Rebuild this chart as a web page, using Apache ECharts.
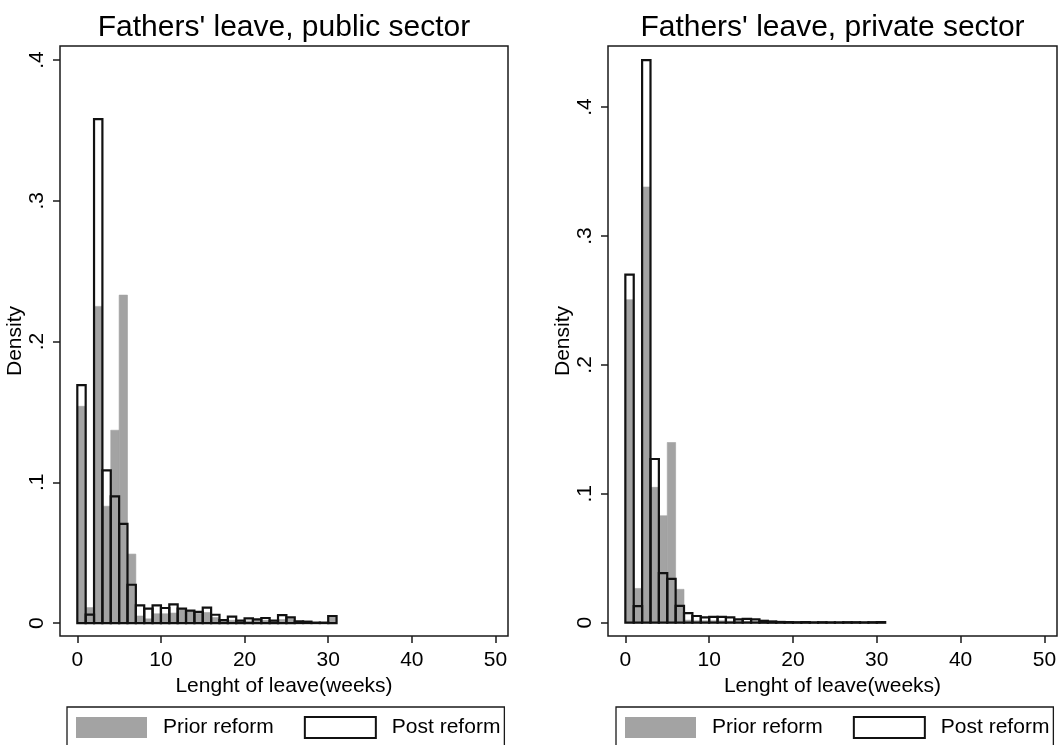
<!DOCTYPE html>
<html>
<head>
<meta charset="utf-8">
<title>Fathers' leave</title>
<script src="https://cdn.jsdelivr.net/npm/echarts@6/dist/echarts.min.js"></script>
<style>
  html, body { margin: 0; padding: 0; background: #ffffff; }
  #chart { width: 1060px; height: 745px; }
</style>
</head>
<body>
<div id="chart"></div>
<script>
// Histogram bins: lower edges (weeks), each bin is one week wide
const binStart = [0, 1, 2, 3, 4, 5, 6, 7, 8, 9, 10, 11, 12, 13, 14, 15, 16, 17, 18, 19, 20, 21, 22, 23, 24, 25, 26, 27, 28, 29, 30];
const binWidth = 1;

// Density per bin, public sector
const publicPrior = [0.154, 0.011, 0.225, 0.083, 0.137, 0.233, 0.049, 0.005, 0.003, 0.0066, 0.0066, 0.0071, 0.0095, 0.0085, 0.007, 0.0075, 0.004, 0.002, 0.002, 0.0017, 0.0015, 0.0026, 0.002, 0.0017, 0.0025, 0.003, 0.0012, 0.001, 0.0003, 0.0003, 0.005];
const publicPost = [0.169, 0.006, 0.358, 0.1085, 0.090, 0.0705, 0.0272, 0.0126, 0.0102, 0.0126, 0.0107, 0.0133, 0.0102, 0.0088, 0.008, 0.011, 0.0059, 0.0021, 0.0045, 0.0017, 0.0033, 0.0026, 0.0036, 0.0017, 0.0057, 0.004, 0.0012, 0.001, 0.0003, 0.0003, 0.005];

// Density per bin, private sector
const privatePrior = [0.2506, 0.0266, 0.338, 0.105, 0.083, 0.1398, 0.0259, 0.002, 0.0015, 0.0015, 0.0015, 0.0015, 0.0012, 0.001, 0.001, 0.0008, 0.0008, 0.0006, 0.0005, 0.0005, 0.0005, 0.0005, 0.0004, 0.0005, 0.0004, 0.0004, 0.0005, 0.0005, 0.0004, 0.0005, 0.0005];
const privatePost = [0.270, 0.0129, 0.4365, 0.127, 0.0385, 0.034, 0.013, 0.0075, 0.0052, 0.0041, 0.0045, 0.0045, 0.0041, 0.0026, 0.003, 0.0026, 0.0015, 0.001, 0.0006, 0.0005, 0.0004, 0.0005, 0.0003, 0.0004, 0.0003, 0.0003, 0.0004, 0.0004, 0.0003, 0.0004, 0.0005];

// Axis ticks and text
const xTicks = [0, 10, 20, 30, 40, 50];
const yTicks = [0, 0.1, 0.2, 0.3, 0.4];
const panelTitles = ["Fathers' leave, public sector", "Fathers' leave, private sector"];
const seriesNames = ['Prior reform', 'Post reform'];
const xTitle = 'Lenght of leave(weeks)';
const yTitle = 'Density';

const FONT = '"Liberation Sans", Arial, sans-serif';
const INK = '#000000';
const GRAY = '#a3a3a3';

function binRows(values) {
  return binStart.map((s, i) => [s, s + binWidth, values[i]]);
}

function renderBin(style) {
  return function (params, api) {
    const top = api.coord([api.value(0), api.value(2)]);
    const bottom = api.coord([api.value(1), 0]);
    return {
      type: 'rect',
      shape: { x: top[0], y: top[1], width: bottom[0] - top[0], height: bottom[1] - top[1] },
      style: style
    };
  };
}

const priorStyle = { fill: GRAY, stroke: GRAY, lineWidth: 0.6 };
const postStyle = { fill: 'none', stroke: '#111111', lineWidth: 2.2 };

const grids = [
  { left: 60, top: 46, width: 448, height: 590 },
  { left: 608, top: 46, width: 449, height: 590 }
];
const yRanges = [[-0.0092, 0.41], [-0.0103, 0.4474]];

function yLabel(v) {
  return v === 0 ? '0' : String(v).replace(/^0/, '');
}

const option = {
  backgroundColor: '#ffffff',
  animation: false,
  textStyle: { fontFamily: FONT, color: INK },
  title: panelTitles.map((t, i) => ({
    text: t,
    left: grids[i].left + grids[i].width / 2,
    textAlign: 'center',
    top: 13,
    padding: 0,
    textStyle: { fontFamily: FONT, fontSize: 30, fontWeight: 'normal', color: INK }
  })),
  grid: grids.map(g => Object.assign({ show: true, borderColor: '#1a1a1a', borderWidth: 1.5, containLabel: false }, g)),
  xAxis: grids.map((g, i) => ({
    type: 'value',
    gridIndex: i,
    position: 'bottom',
    min: -2.07,
    max: 51.5,
    name: xTitle,
    nameLocation: 'middle',
    nameGap: 40,
    nameTextStyle: { fontFamily: FONT, fontSize: 21, color: INK },
    axisLine: { show: false, onZero: false },
    splitLine: { show: false },
    axisTick: { show: true, length: 7, inside: false, customValues: xTicks, lineStyle: { color: '#1a1a1a', width: 1.5 } },
    axisLabel: { customValues: xTicks, margin: 14, fontFamily: FONT, fontSize: 21, color: INK }
  })),
  yAxis: grids.map((g, i) => ({
    type: 'value',
    gridIndex: i,
    position: 'left',
    min: yRanges[i][0],
    max: yRanges[i][1],
    name: yTitle,
    nameLocation: 'middle',
    nameGap: 25,
    nameTextStyle: { fontFamily: FONT, fontSize: 21, color: INK },
    axisLine: { show: false, onZero: false },
    splitLine: { show: false },
    axisTick: { show: true, length: 7, inside: false, customValues: yTicks, lineStyle: { color: '#1a1a1a', width: 1.5 } },
    axisLabel: { customValues: yTicks, rotate: 90, margin: 12, fontFamily: FONT, fontSize: 21, color: INK, formatter: yLabel }
  })),
  legend: grids.map((g, i) => ({
    left: i === 0 ? 67 : 616,
    top: 707,
    orient: 'horizontal',
    padding: [9, 4, 10, 9],
    itemGap: 30,
    itemWidth: 71,
    itemHeight: 21,
    borderColor: '#1a1a1a',
    borderWidth: 1.3,
    selectedMode: false,
    textStyle: { fontFamily: FONT, fontSize: 21, color: INK, padding: [0, 0, 0, 11], lineHeight: 21 },
    data: [
      { name: seriesNames[0], icon: 'rect', itemStyle: { color: GRAY, borderWidth: 0 } },
      { name: seriesNames[1], icon: 'rect', itemStyle: { color: '#ffffff', borderColor: '#111111', borderWidth: 2 } }
    ]
  })),
  series: [
    { name: seriesNames[0], data: binRows(publicPrior), style: priorStyle, axis: 0, z: 2 },
    { name: seriesNames[1], data: binRows(publicPost), style: postStyle, axis: 0, z: 3 },
    { name: seriesNames[0], data: binRows(privatePrior), style: priorStyle, axis: 1, z: 2 },
    { name: seriesNames[1], data: binRows(privatePost), style: postStyle, axis: 1, z: 3 }
  ].map(s => ({
    type: 'custom',
    name: s.name,
    xAxisIndex: s.axis,
    yAxisIndex: s.axis,
    z: s.z,
    clip: false,
    itemStyle: s.name === seriesNames[0] ? { color: GRAY } : { color: '#ffffff', borderColor: '#111111', borderWidth: 2 },
    renderItem: renderBin(s.style),
    encode: { x: [0, 1], y: 2 },
    data: s.data
  }))
};

const chart = echarts.init(document.getElementById('chart'), null, { renderer: 'canvas' });
chart.setOption(option);
</script>
</body>
</html>
